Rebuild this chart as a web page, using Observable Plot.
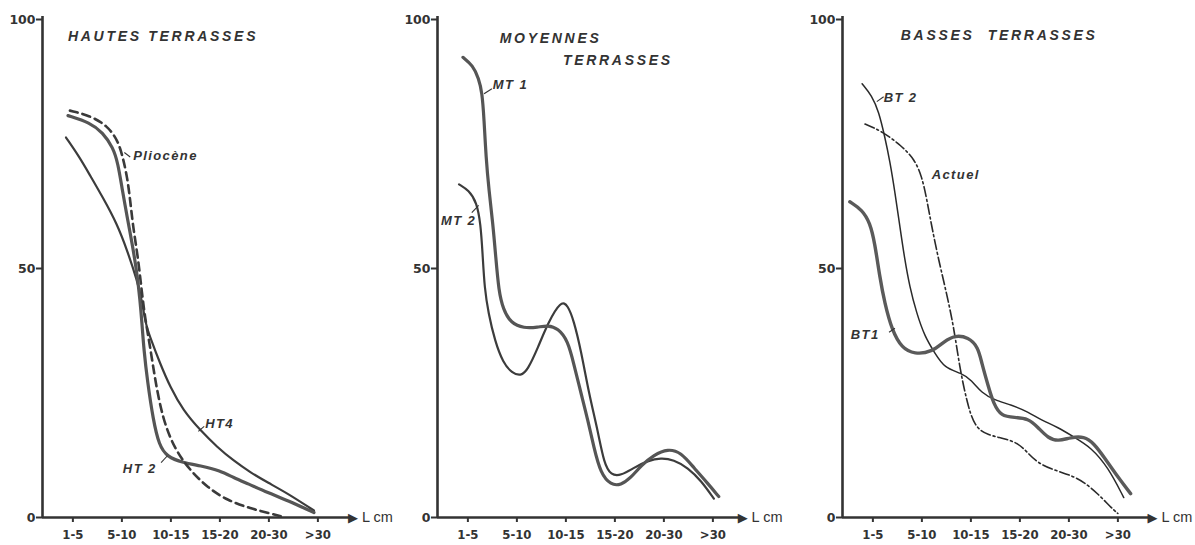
<!DOCTYPE html>
<html><head><meta charset="utf-8">
<script src="https://cdn.jsdelivr.net/npm/d3@7"></script>
<script src="https://cdn.jsdelivr.net/npm/@observablehq/plot@0.6"></script>
<style>
html,body{margin:0;padding:0;background:#fff;}
#wrap{position:relative;width:1195px;height:545px;overflow:hidden;background:#fff;}
#wrap svg{position:absolute;top:0;overflow:visible;}
g[aria-description="titles"] text{letter-spacing:2.7px;}
g[aria-description="labels"] text{letter-spacing:1.4px;}
</style></head><body><div id="wrap"></div>
<script>
// ---- categories / ticks ----
const classes = ["1-5", "5-10", "10-15", "15-20", "20-30", ">30"];
const yTicks = [0, 50, 100];

// ---- series (x = class index, y = %) ----
// Hautes terrasses
const ht2 = [[-0.10,80.7],[0.35,79.3],[0.61,77.3],[0.82,74.3],[0.92,71.1],[1.00,66.3],[1.11,60.2],[1.21,55.0],[1.31,49.0],[1.37,43.6],[1.41,39.0],[1.45,33.6],[1.52,27.5],[1.64,19.5],[1.76,14.5],[1.92,12.2],[2.25,11.0],[2.60,10.4],[3.01,9.4],[3.28,8.0],[3.57,6.8],[3.98,5.0],[4.39,3.4],[4.92,1.0]];
const ht4 = [[-0.14,76.3],[0.14,72.3],[0.35,68.7],[0.61,64.3],[0.90,59.0],[1.11,53.6],[1.31,47.6],[1.41,43.6],[1.48,39.0],[1.58,36.1],[1.78,30.9],[1.99,26.1],[2.25,21.5],[2.60,17.5],[2.95,14.1],[3.28,11.4],[3.63,9.0],[3.98,7.0],[4.39,4.8],[4.92,1.4]];
const pliocene = [[-0.06,81.7],[0.35,80.7],[0.70,78.7],[0.92,75.7],[1.02,72.3],[1.11,68.3],[1.17,63.7],[1.23,58.2],[1.33,52.2],[1.41,45.0],[1.48,39.6],[1.58,34.1],[1.68,27.5],[1.84,19.5],[2.09,13.5],[2.40,9.4],[2.75,6.0],[3.16,3.4],[3.63,1.8],[4.04,0.8],[4.34,0]];
// Moyennes terrasses
const mt1 = [[-0.10,92.4],[0.10,90.8],[0.22,88.2],[0.29,85.4],[0.33,80.0],[0.37,72.3],[0.43,65.7],[0.51,59.0],[0.57,52.2],[0.63,45.5],[0.72,41.8],[0.88,39.0],[1.14,38.0],[1.43,38.2],[1.63,38.6],[1.84,38.0],[2.04,35.5],[2.16,30.9],[2.31,24.9],[2.45,19.5],[2.57,14.1],[2.71,8.8],[2.92,6.5],[3.12,6.5],[3.33,8.0],[3.53,10.4],[3.80,12.6],[4.08,13.8],[4.35,13.1],[4.61,10.0],[4.90,6.8],[5.12,4.2]];
const mt2 = [[-0.18,66.9],[0.02,65.7],[0.18,63.3],[0.26,59.0],[0.30,53.0],[0.34,46.0],[0.42,41.0],[0.55,35.5],[0.72,31.0],[0.90,29.0],[1.08,28.4],[1.22,29.6],[1.43,34.1],[1.63,39.0],[1.90,43.6],[2.04,42.6],[2.16,39.6],[2.31,33.5],[2.47,24.9],[2.65,17.5],[2.78,10.8],[2.92,8.5],[3.12,8.4],[3.39,10.0],[3.67,11.4],[3.94,12.0],[4.20,11.6],[4.49,10.0],[4.76,7.4],[5.02,3.8]];
// Basses terrasses
const bt1 = [[-0.47,63.4],[-0.22,61.8],[-0.06,59.2],[0.04,55.1],[0.14,48.3],[0.24,43.1],[0.39,37.6],[0.59,34.0],[0.85,32.8],[1.20,33.2],[1.46,35.4],[1.67,36.6],[1.95,36.2],[2.15,34.2],[2.22,31.0],[2.36,26.2],[2.46,22.9],[2.62,20.3],[2.89,20.1],[3.17,19.9],[3.37,18.1],[3.58,15.9],[3.78,15.3],[4.04,16.1],[4.31,16.3],[4.51,14.9],[4.72,12.1],[5.00,8.1],[5.26,4.8]];
const bt2 = [[-0.22,87.1],[-0.02,84.7],[0.12,81.5],[0.24,76.6],[0.35,71.4],[0.45,65.3],[0.55,58.5],[0.65,51.8],[0.75,46.4],[0.89,41.1],[1.06,36.3],[1.26,33.1],[1.46,30.0],[1.81,29.0],[2.01,27.6],[2.22,25.0],[2.48,23.6],[2.83,22.6],[3.17,21.2],[3.43,19.6],[3.78,18.1],[4.11,16.1],[4.45,14.1],[4.80,10.1],[5.12,4.0]];
const actuel = [[-0.16,79.0],[0.18,77.6],[0.59,74.6],[0.85,71.9],[1.00,68.5],[1.10,63.9],[1.20,58.5],[1.34,51.8],[1.50,45.2],[1.65,38.3],[1.77,30.2],[1.91,23.6],[2.07,18.1],[2.36,16.5],[2.68,15.9],[2.97,14.9],[3.17,12.9],[3.37,10.9],[3.70,9.5],[4.04,8.5],[4.31,7.1],[4.59,4.8],[4.86,2.0],[5.00,0.8]];

// ---- annotations (data coordinates) ----
const titles1 = [{x:-0.10, y:96.6, t:"HAUTES TERRASSES"}];
const titles2 = [{x:0.65, y:96.2, t:"MOYENNES"}, {x:1.94, y:91.8, t:"TERRASSES"}];
const titles3 = [{x:0.57, y:96.8, t:"BASSES\u00a0\u00a0TERRASSES"}];
const labels1 = [{x:1.23, y:72.7, t:"Pliocène"}, {x:2.70, y:18.9, t:"HT4"}, {x:1.02, y:9.8, t:"HT 2"}];
const labels2 = [{x:0.51, y:86.9, t:"MT 1"}, {x:-0.55, y:59.6, t:"MT 2"}];
const labels3 = [{x:0.22, y:84.3, t:"BT 2"}, {x:1.20, y:68.8, t:"Actuel"}, {x:-0.45, y:36.6, t:"BT1"}];
const leaders1 = [{x1:1.05,y1:73.3,x2:1.17,y2:72.4},{x1:2.56,y1:17.3,x2:2.68,y2:18.3},{x1:1.80,y1:11.0,x2:1.93,y2:12.4}];
const leaders2 = [{x1:0.33,y1:85.1,x2:0.49,y2:86.1},{x1:0.08,y1:61.2,x2:0.22,y2:62.7}];
const leaders3 = [{x1:0.08,y1:83.5,x2:0.22,y2:84.5},{x1:0.33,y1:37.2,x2:0.45,y2:38.0}];

const AX = "#333";
const X0 = -0.62, UNIT = 49, W = 395, H = 545, ML = 42;

function panel({left, lines, titles, labels, leaders, xEnd}) {
  const marks = [
    Plot.ruleX([{x:X0, y1:0, y2:100.6}], {x:"x", y1:"y1", y2:"y2", stroke:AX, strokeWidth:2.6}),
    Plot.ruleY([{y:0, x1:X0, x2:xEnd-0.15}], {y:"y", x1:"x1", x2:"x2", stroke:AX, strokeWidth:2.6}),
    Plot.text([{x:xEnd, y:0}], {x:"x", y:"y", text:() => "\u25B6", textAnchor:"end", fontSize:13, fill:AX, fontFamily:"DejaVu Sans"}),
    Plot.text([{x:xEnd + 0.08, y:0}], {x:"x", y:"y", text:() => "L cm", textAnchor:"start", fontSize:14.5, fill:AX, fontFamily:"Liberation Sans"}),
    Plot.axisX({ticks:d3.range(6), tickFormat:i => classes[i], tickSize:5, tickPadding:7, label:null, strokeWidth:2}),
    Plot.axisY({ticks:yTicks, tickSize:6, tickPadding:1, label:null, strokeWidth:2}),
    ...lines.map(([data, st]) => Plot.line(data, {x:d => d[0], y:d => d[1], curve:"basis", ...st})),
    Plot.link(leaders, {x1:"x1", y1:"y1", x2:"x2", y2:"y2", stroke:"#333", strokeWidth:1.1}),
    Plot.text(labels, {x:"x", y:"y", text:"t", textAnchor:"start", fontSize:13, fontStyle:"italic", fontWeight:"bold", fontFamily:"Liberation Sans", fill:"#333", ariaDescription:"labels"}),
    Plot.text(titles, {x:"x", y:"y", text:"t", textAnchor:"start", fontSize:14, fontStyle:"italic", fontWeight:"bold", fontFamily:"Liberation Sans", fill:"#333", ariaDescription:"titles"})
  ];
  const svg = Plot.plot({
    width:W, height:H, marginLeft:ML, marginRight:0, marginTop:19, marginBottom:28,
    x:{domain:[X0, X0 + (W - ML) / UNIT]},
    y:{domain:[0, 100]},
    style:{background:"transparent", color:AX, overflow:"visible"},
    marks
  });
  // tick label typography, set on the text nodes themselves
  const xs = new Set(classes), ys = new Set(yTicks.map(String));
  d3.select(svg).selectAll("text").each(function() {
    const s = this.textContent;
    if (xs.has(s)) {
      this.style.fontFamily = "'DejaVu Sans Condensed', 'DejaVu Sans', sans-serif";
      this.style.fontSize = "13px";
      this.style.fontWeight = "bold";
    } else if (ys.has(s)) {
      this.style.fontFamily = "'DejaVu Sans', sans-serif";
      this.style.fontSize = "12.5px";
      this.style.fontWeight = "bold";
    }
  });
  svg.style.left = left + "px";
  document.getElementById("wrap").appendChild(svg);
}

const thick = {stroke:"#555", strokeWidth:3.2};
const medium = {stroke:"#3c3c3c", strokeWidth:2.2};
const thin = {stroke:"#2a2a2a", strokeWidth:1.5};

panel({left:0, xEnd:5.82, titles:titles1, labels:labels1, leaders:leaders1,
  lines:[[ht4, medium], [ht2, thick], [pliocene, {stroke:"#3a3a3a", strokeWidth:2.6, strokeDasharray:"8,5"}]]});
panel({left:395, xEnd:5.71, titles:titles2, labels:labels2, leaders:leaders2,
  lines:[[mt2, medium], [mt1, thick]]});
panel({left:800, xEnd:5.81, titles:titles3, labels:labels3, leaders:leaders3,
  lines:[[bt2, thin], [actuel, {stroke:"#2a2a2a", strokeWidth:1.6, strokeDasharray:"10,3,2,3"}], [bt1, {stroke:"#5a5a5a", strokeWidth:3.4}]]});
</script></body></html>
